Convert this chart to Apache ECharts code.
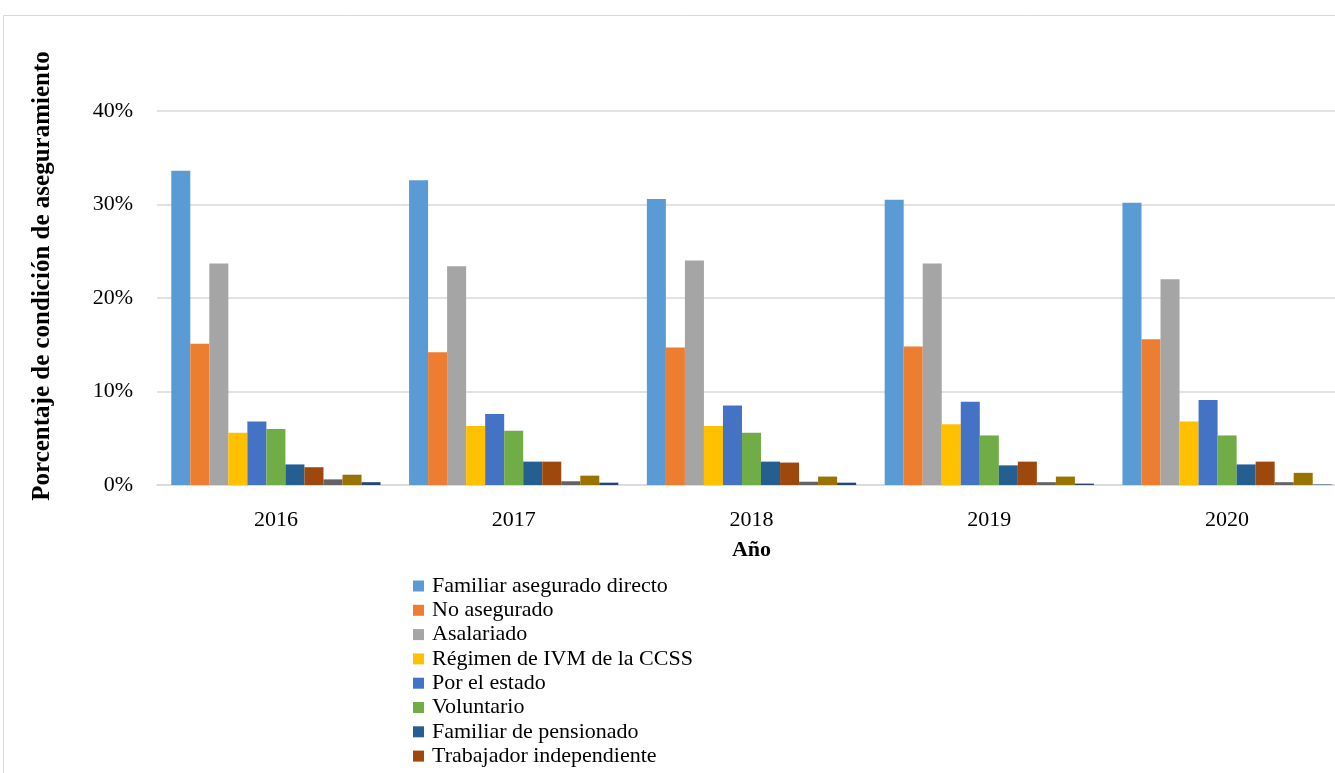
<!DOCTYPE html>
<html>
<head>
<meta charset="utf-8">
<script src="https://cdn.jsdelivr.net/npm/echarts@6/dist/echarts.min.js"></script>
<style>
  html, body { margin: 0; padding: 0; background: #fff; overflow: hidden; }
  /* el gráfico original está recortado por la derecha: el lienzo es más ancho que la ventana */
  #chart { width: 1370px; height: 773px; }
</style>
</head>
<body>
<div id="chart"></div>
<script>
// Años (categorías del eje x)
const anios = ['2016', '2017', '2018', '2019', '2020'];

// Porcentaje por condición de aseguramiento
const familiarAseguradoDirecto = [33.6, 32.6, 30.6, 30.5, 30.2];
const noAsegurado = [15.1, 14.2, 14.7, 14.8, 15.6];
const asalariado = [23.7, 23.4, 24.0, 23.7, 22.0];
const regimenIVM = [5.6, 6.3, 6.3, 6.5, 6.8];
const porElEstado = [6.8, 7.6, 8.5, 8.9, 9.1];
const voluntario = [6.0, 5.8, 5.6, 5.3, 5.3];
const familiarPensionado = [2.2, 2.5, 2.5, 2.1, 2.2];
const trabajadorIndependiente = [1.9, 2.5, 2.4, 2.5, 2.5];
// las tres últimas series no se ven en la leyenda (cortada)
const otraSerie1 = [0.6, 0.4, 0.35, 0.3, 0.3];
const otraSerie2 = [1.1, 1.0, 0.9, 0.9, 1.3];
const otraSerie3 = [0.3, 0.25, 0.25, 0.15, 0.05];

const ticksY = [0, 10, 20, 30, 40];

const nombres = [
    'Familiar asegurado directo',
    'No asegurado',
    'Asalariado',
    'Régimen de IVM de la CCSS',
    'Por el estado',
    'Voluntario',
    'Familiar de pensionado',
    'Trabajador independiente',
    'Convenio',
    'Régimen no contributivo',
    'Otras formas'
];
const valores = [
    familiarAseguradoDirecto, noAsegurado, asalariado, regimenIVM, porElEstado,
    voluntario, familiarPensionado, trabajadorIndependiente, otraSerie1, otraSerie2, otraSerie3
];
const colores = ['#5B9BD5', '#ED7D31', '#A5A5A5', '#FFC000', '#4472C4', '#70AD47',
    '#255E91', '#9E480E', '#636363', '#997300', '#264478'];

const fuente = '"Liberation Serif", "Times New Roman", serif';

const chart = echarts.init(document.getElementById('chart'));

const series = nombres.map((nombre, i) => ({
    name: nombre,
    type: 'bar',
    data: valores[i],
    itemStyle: { color: colores[i] },
    barGap: '0%',
    barCategoryGap: '12%'
}));

chart.setOption({
    animation: false,
    backgroundColor: '#fff',
    grid: { left: 157, top: 111, width: 1189, height: 374, containLabel: false },
    graphic: [
        {
            type: 'rect',
            shape: { x: 3.5, y: 15.5, width: 1400, height: 800 },
            style: { fill: 'none', stroke: '#d9d9d9', lineWidth: 1 },
            silent: true
        },
        {
            type: 'text',
            x: 43,
            y: 276,
            rotation: Math.PI / 2,
            style: {
                text: 'Porcentaje de condición de aseguramiento',
                font: 'bold 25px ' + fuente,
                fill: '#000',
                align: 'center',
                verticalAlign: 'middle'
            }
        }
    ],
    legend: {
        data: nombres.slice(0, 8),
        orient: 'vertical',
        left: 413,
        top: 575,
        height: 400,
        padding: 0,
        itemWidth: 11,
        itemHeight: 11,
        itemGap: 2.3,
        icon: 'rect',
        textStyle: { fontFamily: fuente, fontSize: 22, color: '#000', lineHeight: 22, padding: [0, 0, 0, 3] }
    },
    xAxis: {
        type: 'category',
        data: anios,
        name: 'Año',
        nameLocation: 'middle',
        nameGap: 54,
        nameTextStyle: { fontFamily: fuente, fontSize: 22, fontWeight: 'bold', color: '#000' },
        axisLine: { lineStyle: { color: '#d9d9d9', width: 1.5 } },
        axisTick: { show: false },
        axisLabel: { fontFamily: fuente, fontSize: 22, color: '#000', margin: 24 }
    },
    yAxis: {
        type: 'value',
        min: ticksY[0],
        max: ticksY[ticksY.length - 1],
        interval: 10,
        axisLine: { show: false },
        axisTick: { show: false },
        splitLine: { lineStyle: { color: '#d9d9d9', width: 1.5 } },
        axisLabel: { fontFamily: fuente, fontSize: 22, color: '#000', margin: 24, formatter: '{value}%' }
    },
    series: series
});
</script>
</body>
</html>
